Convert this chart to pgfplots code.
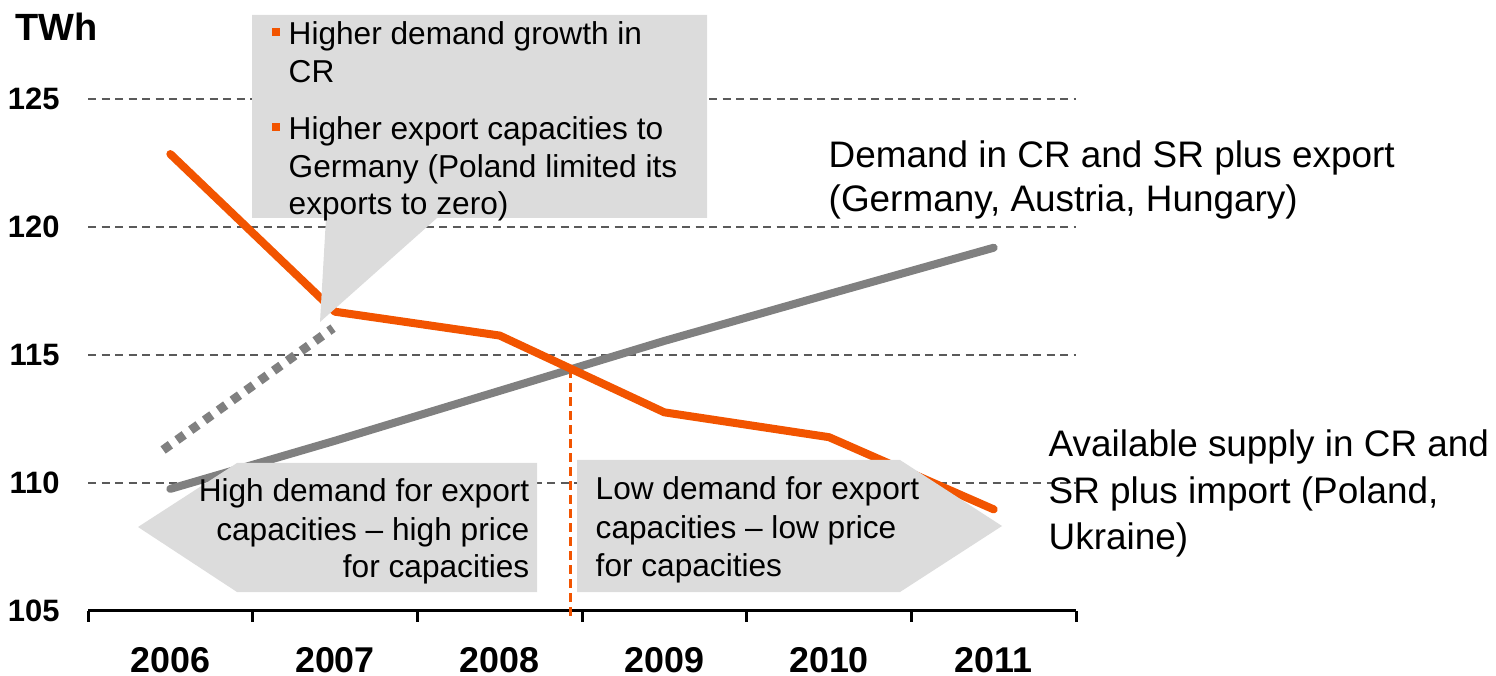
\documentclass[border=0pt]{standalone}
\usepackage{pgfplots}
\pgfplotsset{compat=1.18}
\usepackage{fontspec}
\setmainfont{Liberation Sans}
\definecolor{myorange}{RGB}{242,84,0}
\definecolor{linegray}{RGB}{128,128,128}
\definecolor{boxgray}{RGB}{220,220,220}
\definecolor{gridgray}{RGB}{90,90,90}
\begin{document}
\begin{tikzpicture}
\path[use as bounding box] (0,0) rectangle (149.6mm,67.6mm);
\begin{axis}[
  at={(8.8mm,6.5mm)}, anchor=south west,
  scale only axis, width=98.8mm, height=51.2mm,
  xmin=-0.5, xmax=5.5, ymin=105, ymax=125,
  clip=false,
  separate axis lines,
  axis x line*=bottom, axis y line*=left,
  y axis line style={draw=none},
  x axis line style={line width=0.3mm, black},
  xtick={0,1,2,3,4,5},
  xticklabels={2006,2007,2008,2009,2010,2011},
  minor xtick={-0.5,0.5,1.5,2.5,3.5,4.5,5.5},
  ytick={105,110,115,120,125},
  major tick length=0pt, minor tick length=1.1mm,
  tick align=outside,
  minor tick style={line width=0.3mm, black},
  ymajorgrids,
  grid style={gridgray, line width=0.35pt, dash pattern=on 0.8mm off 0.55mm},
  /pgf/number format/assume math mode=true,
  xticklabel style={font=\bfseries\fontsize{10.2}{12}\selectfont, yshift=-2.45mm},
  yticklabel style={font=\bfseries\fontsize{8.8}{10}\selectfont, xshift=-1.6mm},
]
\addplot[linegray, line width=0.9mm, dash pattern=on 0.9mm off 0.8mm] coordinates {(-0.044,111.29) (0.988,116.05)};
\addplot[linegray, line width=0.8mm, line cap=round, line join=round] coordinates {
 (0,109.77) (1,111.65) (2,113.60) (3,115.55) (4,117.38) (5,119.19)};
\addplot[myorange, line width=0.35mm, dash pattern=on 0.9mm off 0.5mm] coordinates {(2.43,114.45) (2.43,104.65)};
\addplot[myorange, line width=0.8mm, line cap=round, line join=round] coordinates {
 (0,122.85) (1,116.69) (2,115.76) (3,112.76) (4,111.79) (5,108.97)};
\end{axis}
\begin{scope}[x=0.1mm,y=-0.1mm,yshift=67.6mm]
  % TWh
  \node[anchor=base west, inner sep=0, font=\bfseries\fontsize{10.8}{13}\selectfont] at (15,40.5) {TWh};
  % callout
  \fill[boxgray] (252,15) -- (707,15) -- (707,218) -- (437,218) -- (320,322) -- (326,218) -- (252,218) -- cycle;
  \fill[myorange] (272,28) rectangle (280,36);
  \fill[myorange] (272,123) rectangle (280,131);
  \begin{scope}[every node/.style={anchor=base west, inner sep=0, font=\fontsize{9}{11}\selectfont}]
    \node at (288,45) {Higher demand growth in};
    \node at (288,83) {CR};
    \node at (288,140) {Higher export capacities to};
    \node at (288,178) {Germany (Poland limited its};
    \node at (288,215) {exports to zero)};
  \end{scope}
  % arrows
  \fill[boxgray] (138,527) -- (237,463) -- (537,463) -- (537,592) -- (237,592) -- cycle;
  \fill[boxgray] (577,460) -- (900,460) -- (1002,526) -- (900,592) -- (577,592) -- cycle;
  \begin{scope}[every node/.style={anchor=base east, inner sep=0, font=\fontsize{9}{11}\selectfont}]
    \node at (530,502) {High demand for export};
    \node at (530,540) {capacities -- high price};
    \node at (530,577) {for capacities};
  \end{scope}
  \begin{scope}[every node/.style={anchor=base west, inner sep=0, font=\fontsize{9}{11}\selectfont}]
    \node at (595,500) {Low demand for export};
    \node at (595,538) {capacities -- low price};
    \node at (595,576) {for capacities};
  \end{scope}
  % series labels
  \begin{scope}[every node/.style={anchor=base west, inner sep=0, font=\fontsize{10.5}{12.6}\selectfont}]
    \node at (828,168) {Demand in CR and SR plus export};
    \node at (828,212) {(Germany, Austria, Hungary)};
    \node at (1048,457) {Available supply in CR and};
    \node at (1048,503) {SR plus import (Poland,};
    \node at (1048,549) {Ukraine)};
  \end{scope}
\end{scope}
\end{tikzpicture}
\end{document}
